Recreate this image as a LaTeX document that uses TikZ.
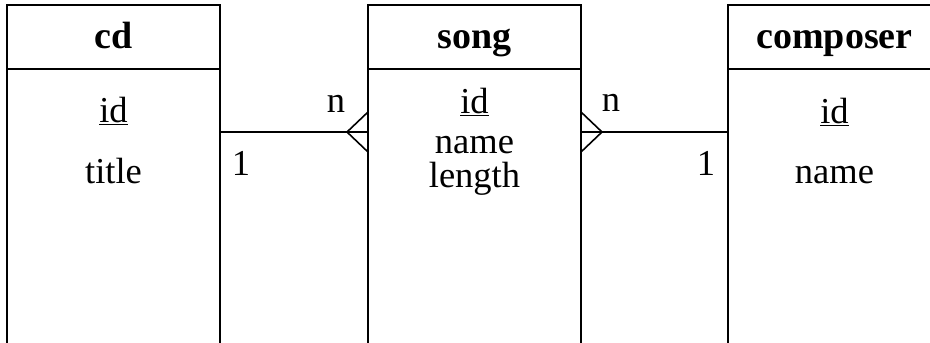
\documentclass[tikz,border=0pt]{standalone}
\usepackage{fontspec}
\setmainfont{Liberation Serif}
\usetikzlibrary{positioning}

\tikzset{
  tbl/.style={draw, line width=1.8pt, minimum width=213pt, inner sep=0pt, outer sep=0pt},
  hdr/.style={tbl, minimum height=64pt, text height=25pt, text depth=3pt,
              font=\fontsize{38}{42}\selectfont\bfseries},
  body/.style={tbl, minimum height=420pt},
  attr/.style={anchor=base, inner sep=0pt, font=\fontsize{36.5}{40}\selectfont},
  card/.style={attr},
  link/.style={line width=1.6pt}
}

\begin{document}
\begin{tikzpicture}[x=1pt, y=-1pt]
    \useasboundingbox (0,0) rectangle (930,343);
    \clip (0,0) rectangle (930,343);

    % tables
    \node[hdr] (cdhead) at (113.5,37) {cd};
    \node[body, below=0pt of cdhead] (cdbody) {};
    \node[hdr] (songhead) at (474.5,37) {song};
    \node[body, below=0pt of songhead] (songbody) {};
    \node[hdr] (comphead) at (834.5,37) {composer};
    \node[body, below=0pt of comphead] (compbody) {};

    % attributes
    \node[attr] (cdid) at (113.5,122) {\underline{id}};
    \node[attr] (cdtitle) at (113.5,183) {title};
    \node[attr] (songid) at (474.5,113) {\underline{id}};
    \node[attr] (songname) at (474.5,153) {name};
    \node[attr] (songlen) at (474.5,187) {length};
    \node[attr] (compid) at (834.5,123) {\underline{id}};
    \node[attr] (compname) at (834.5,183) {name};

    % relationships
    \coordinate (lnk) at (0,132);
    \draw[link] (cdbody.east |- lnk) -- (songbody.west |- lnk);
    \draw[link] (songbody.east |- lnk) -- (compbody.west |- lnk);
    \draw[link] (songbody.west |- lnk) ++(0,-20) -- ++(-21,20) -- ++(21,20);
    \draw[link] (songbody.east |- lnk) ++(0,-20) -- ++(21,20) -- ++(-21,20);

    \node[card] (n1) at (336,112) {n};
    \node[card] (o1) at (241,175) {1};
    \node[card] (n2) at (611,111) {n};
    \node[card] (o2) at (706,175) {1};
\end{tikzpicture}
\end{document}
